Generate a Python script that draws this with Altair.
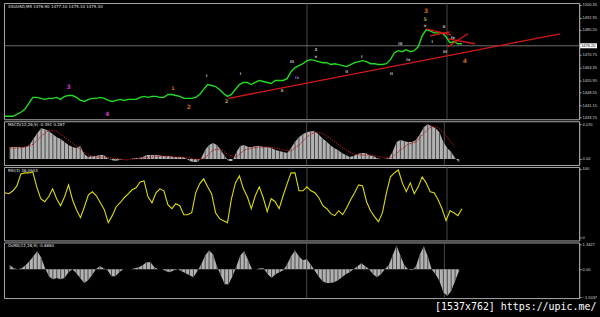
import altair as alt
import pandas as pd

# ---------------- data ----------------
price = [1434.5, 1434.5, 1434.5, 1435.7, 1436.9, 1438.6, 1442.2, 1445.7, 1445.7, 1445.1,
         1444.5, 1445.1, 1445.1, 1445.7, 1444.5, 1446.3, 1446.8, 1446.8, 1445.7, 1443.9,
         1443.3, 1444.5, 1445.1, 1445.1, 1445.7, 1445.1, 1443.9, 1443.3, 1443.9, 1444.5,
         1443.9, 1444.5, 1444.5, 1444.5, 1445.7, 1446.3, 1445.7, 1446.3, 1446.3, 1445.7,
         1445.7, 1447.4, 1447.4, 1446.8, 1446.3, 1445.1, 1445.1, 1445.1, 1445.7, 1447.4,
         1450.4, 1453.3, 1452.7, 1452.1, 1450.4, 1448.0, 1446.3, 1447.4, 1450.4, 1453.3,
         1454.5, 1454.5, 1453.3, 1454.5, 1455.7, 1455.1, 1454.5, 1453.9, 1455.7, 1455.7,
         1455.7, 1456.8, 1460.9, 1463.3, 1464.5, 1465.6, 1467.4, 1468.0, 1467.4, 1466.8,
         1466.2, 1466.2, 1465.1, 1465.6, 1465.1, 1464.5, 1463.9, 1465.1, 1466.2, 1466.8,
         1467.4, 1466.8, 1465.6, 1465.6, 1465.1, 1465.1, 1465.6, 1468.0, 1472.1, 1473.3,
         1472.7, 1473.9, 1472.7, 1473.3, 1475.6, 1482.1, 1485.6, 1485.0, 1483.8, 1483.8,
         1483.8, 1481.5, 1478.0, 1478.6, 1477.4, 1477.4]

macd_hist = [1.40, 1.40, 1.40, 1.40, 1.40, 1.63, 2.33, 3.02, 3.61, 3.49,
             3.26, 2.91, 2.56, 2.33, 1.98, 1.63, 1.40, 1.28, 1.51, 0.58,
             0.23, 0.35, 0.35, 0.47, 0.47, 0.12, -0.12, -0.23, -0.12, 0.0,
             0.0, 0.0, 0.12, 0.12, 0.23, 0.47, 0.47, 0.47, 0.47, 0.35,
             0.35, 0.35, 0.23, 0.23, 0.23, 0.12, -0.23, -0.35, -0.35, 0.12,
             1.05, 1.63, 1.86, 1.63, 1.05, 0.35, -0.23, -0.23, 0.81, 1.51,
             1.63, 1.40, 1.40, 1.51, 1.51, 1.40, 1.40, 1.28, 1.05, 0.93,
             0.81, 0.70, 1.28, 1.98, 2.56, 2.91, 3.14, 3.26, 3.26, 2.91,
             2.44, 2.09, 1.63, 1.28, 1.05, 0.70, 0.47, 0.23, 0.35, 0.58,
             0.70, 0.70, 0.47, 0.35, 0.12, 0.0, 0.0, 0.12, 0.81, 1.98,
             2.21, 2.09, 1.98, 1.98, 2.21, 2.91, 3.72, 4.07, 3.84, 3.61,
             3.14, 1.98, 1.28, 0.81, 0.12, -0.35]

macd_signal = [1.28, 1.28, 1.40, 1.74, 2.67, 3.37, 3.26, 2.56, 1.86, 1.16,
               0.47, 0.23, 0.23, 0.12, 0.0, -0.12, 0.0, 0.12, 0.23, 0.35,
               0.35, 0.23, 0.23, 0.12, -0.12, 0.12, 1.05, 1.16, 0.47, 0.23,
               1.05, 1.28, 1.40, 1.40, 1.28, 1.05, 0.93, 1.63, 2.56, 3.14,
               3.02, 2.44, 1.74, 1.05, 0.58, 0.47, 0.47, 0.35, 0.12, 0.23,
               1.05, 1.74, 1.98, 3.02, 3.84, 3.61, 2.56, 1.40]

rsi = [65.2, 63.8, 68.1, 75.3, 92.7, 94.2, 94.2, 95.6, 73.9, 56.5,
       52.2, 59.4, 71.0, 56.5, 46.4, 59.4, 76.8, 55.1, 40.6, 29.0,
       44.9, 62.3, 66.7, 60.9, 50.7, 40.6, 21.7, 31.9, 44.9, 50.7,
       58.0, 63.8, 69.6, 72.5, 81.1, 82.6, 59.4, 50.7, 65.2, 71.0,
       68.1, 47.8, 42.0, 49.3, 46.4, 33.3, 33.3, 36.2, 65.2, 78.2,
       85.5, 73.9, 63.8, 36.2, 27.5, 24.6, 21.7, 56.5, 79.7, 89.8,
       71.0, 59.4, 42.0, 60.9, 73.9, 58.0, 37.7, 56.5, 52.2, 42.0,
       60.9, 78.2, 94.2, 94.2, 68.1, 68.1, 73.9, 68.1, 65.2, 58.0,
       46.4, 42.0, 34.8, 31.9, 39.1, 33.3, 43.5, 55.1, 65.2, 76.8,
       75.3, 52.2, 39.1, 30.4, 23.2, 36.2, 65.2, 88.4, 94.2, 98.5,
       79.7, 66.7, 79.7, 63.8, 73.9, 88.4, 79.7, 66.7, 65.2, 55.1,
       42.0, 24.6, 39.1, 36.2, 31.9, 42.0]

osma = [0.21, 0.05, 0.0, 0.05, 0.21, 0.43, 0.70, 0.97, 0.64, 0.05,
        -0.38, -0.54, -0.48, -0.54, -0.48, -0.16, 0.0, -0.21, -0.48, -0.75,
        -0.59, -0.32, 0.0, 0.16, 0.05, -0.05, -0.38, -0.38, -0.16, 0.0,
        0.0, 0.0, 0.05, 0.11, 0.21, 0.38, 0.38, 0.11, 0.0, 0.0,
        -0.11, -0.16, -0.05, 0.0, -0.11, -0.21, -0.32, -0.43, -0.11, 0.27,
        0.75, 1.02, 0.81, 0.16, -0.32, -0.81, -0.81, -0.38, 0.16, 0.75,
        0.97, 0.48, 0.0, 0.0, 0.05, 0.05, -0.27, -0.48, -0.27, -0.16,
        -0.05, 0.27, 0.70, 1.02, 0.70, 0.48, 0.54, 0.27, -0.05, -0.38,
        -0.64, -0.75, -0.75, -0.70, -0.59, -0.43, -0.27, -0.16, 0.0, 0.16,
        0.32, 0.16, 0.0, -0.27, -0.43, -0.27, 0.0, 0.21, 0.75, 1.29,
        0.75, 0.21, 0.0, -0.05, 0.16, 0.81, 1.24, 0.70, 0.0, -0.27,
        -0.64, -1.24, -1.45, -1.18, -0.64, -0.11]

bars = list(range(len(price)))
signal_bars = list(range(0, len(price), 2))

price_ticks = [1433.75, 1441.15, 1448.55, 1455.95, 1463.35, 1470.75, 1485.55, 1492.95, 1500.35]
macd_ticks = [4.07, 0.0]
rsi_ticks = [100, 0]
osma_ticks = [1.3427, 0.0, -1.5037]

bid_price = [1476.20]
bid_label = ["1476.20"]
separator_bars = [76, 111.25]

trend_x = [56.25, 106, 107, 111.5, 111.5]
trend_x2 = [139.75, 112.25, 112, 116.5, 118.25]
trend_p = [1445.1, 1486.2, 1482.1, 1475.6, 1480.3]
trend_p2 = [1483.3, 1482.7, 1484.4, 1483.3, 1477.4]

MAG, ORA, OLI, GRY, PUR = "#c83cc8", "#d2691e", "#a8a040", "#c8c8c8", "#a070e0"
wave_text = ["3", "4", "1", "2", "2", "3", "5", "4",
             "i", "i", "ii", "iii", "iv", "3", "v", "ii", "i", "ii", "iii", "iv", "v", "ii", "i", "iii", "iv"]
wave_bar = [16, 25.75, 42.25, 46.25, 55.75, 106, 105.75, 115.75,
            50.75, 59.25, 69.75, 72.25, 73.5, 78.25, 78.25, 86, 89.75, 97.25, 99.5, 101.5, 105.75, 110.5, 107.5, 110.75, 112.75]
wave_price = [1452.1, 1435.7, 1451.0, 1439.8, 1443.3, 1496.8, 1492.1, 1467.4,
              1458.6, 1459.8, 1449.2, 1466.8, 1457.4, 1473.9, 1469.8, 1460.4, 1469.8, 1459.8, 1477.4, 1468.0, 1487.9, 1487.4, 1478.6, 1472.7, 1480.9]
wave_color = [MAG, MAG, ORA, ORA, OLI, ORA, OLI, ORA] + [GRY] * 4 + [PUR] + [GRY] * 12
wave_size = [6, 6, 5, 6, 5, 6, 5, 6] + [4] * 17

header_main = "XAUUSD,M5  1476.90 1477.10 1475.10 1475.30"
header_macd = "MACD(12,26,9) -0.391 0.267"
header_rsi = "RSI(3) 36.0903"
header_osma = "OsMA(12,26,9) -0.6884"
watermark = "[1537x762] https://upic.me/"

# ---------------- layout ----------------
W = 579
H_MAIN, H_MACD, H_RSI, H_OSMA = 117, 44, 74, 56

XS = alt.Scale(domain=[-0.25, 144.5], nice=False, zero=False)
PS = alt.Scale(domain=[1432.75, 1501.47], nice=False, zero=False)
MS = alt.Scale(domain=[-0.70, 4.42], nice=False, zero=False)
RS = alt.Scale(domain=[-4.3, 102.9], nice=False, zero=False)
OS = alt.Scale(domain=[-1.56, 1.45], nice=False, zero=False)


def yaxis(values, expr=None, fmt=None):
    kw = dict(orient="right", values=values, title=None, grid=False,
              labelFontSize=4, labelColor="#d8d8d8", domainColor="#a0a0a0",
              tickColor="#a0a0a0", tickSize=2, labelPadding=1,
              labelOverlap=False, labelFlush=False)
    if expr:
        kw["labelExpr"] = expr
    if fmt:
        kw["format"] = fmt
    return alt.Axis(**kw)


def xenc(field="i"):
    return alt.X(f"{field}:Q", scale=XS, axis=None)


def vlines():
    return alt.Chart(pd.DataFrame({"i": separator_bars})).mark_rule(
        color="#5a5a5a", strokeWidth=0.8).encode(x=xenc())


def header(t):
    return alt.Chart(pd.DataFrame({"t": [t]})).mark_text(
        align="left", baseline="top", fontSize=4, color="#e0e0e0", font="DejaVu Sans"
    ).encode(text="t:N", x=alt.value(4), y=alt.value(2))


def histogram(df, scale, axis):
    area = alt.Chart(df).mark_area(color="#b2b2b2", clip=True).encode(
        x=xenc(), y=alt.Y("v:Q", scale=scale, axis=axis), y2=alt.datum(0))
    stripes = alt.Chart(df).mark_bar(size=1, color="#4a4a4a", clip=True).encode(
        x=xenc(), y=alt.Y("v:Q", scale=scale, axis=axis))
    return [area, stripes]


PAX = yaxis(price_ticks, fmt=".2f")

# main panel
df_price = pd.DataFrame({"i": bars, "p": price})
df_trend = pd.DataFrame({"i": trend_x, "i2": trend_x2, "p": trend_p, "p2": trend_p2})
df_wave = pd.DataFrame({"i": wave_bar, "p": wave_price, "t": wave_text, "c": wave_color, "s": wave_size})
df_bid = pd.DataFrame({"p": bid_price, "t": bid_label})

bid_line = alt.Chart(df_bid).mark_rule(color="#8a8a8a", strokeWidth=0.8).encode(
    y=alt.Y("p:Q", scale=PS, axis=PAX))
price_line = alt.Chart(df_price).mark_line(color="#22dd22", strokeWidth=1.4, clip=True).encode(
    x=xenc(), y=alt.Y("p:Q", scale=PS, axis=PAX))
trend = alt.Chart(df_trend).mark_rule(color="#d81818", strokeWidth=1.3, clip=True).encode(
    x=xenc(), x2="i2:Q", y=alt.Y("p:Q", scale=PS, axis=PAX), y2="p2:Q")
waves = alt.Chart(df_wave).mark_text(font="DejaVu Sans", fontWeight="bold").encode(
    x=xenc(), y=alt.Y("p:Q", scale=PS, axis=PAX), text="t:N",
    color=alt.Color("c:N", scale=None), size=alt.Size("s:Q", scale=None))
bid_box = alt.Chart(df_bid).mark_rule(color="white", strokeWidth=5).encode(
    x=alt.value(W + 1), x2=alt.value(W + 18), y=alt.Y("p:Q", scale=PS, axis=PAX))
bid_text = alt.Chart(df_bid).mark_text(align="left", baseline="middle", fontSize=4, color="black").encode(
    x=alt.value(W + 2), y=alt.Y("p:Q", scale=PS, axis=PAX), text="t:N")

main = alt.layer(vlines(), bid_line, price_line, trend, waves, header(header_main), bid_box, bid_text
                 ).properties(width=W, height=H_MAIN)

# MACD panel
MAX = yaxis(macd_ticks, expr="datum.value == 0 ? '0.00' : format(datum.value, '.3f')")
df_macd = pd.DataFrame({"i": bars, "v": macd_hist})
df_sig = pd.DataFrame({"i": signal_bars, "v": macd_signal})
macd = alt.layer(
    vlines(),
    *histogram(df_macd, MS, MAX),
    alt.Chart(df_sig).mark_line(color="#b01818", strokeWidth=1, strokeDash=[1.5, 1], clip=True).encode(
        x=xenc(), y=alt.Y("v:Q", scale=MS, axis=MAX)),
    header(header_macd),
).properties(width=W, height=H_MACD)

# RSI panel
RAX = yaxis(rsi_ticks, fmt="d")
df_rsi = pd.DataFrame({"i": bars, "v": rsi})
rsi_chart = alt.layer(
    vlines(),
    alt.Chart(df_rsi).mark_line(color="#dcdc10", strokeWidth=1.1, clip=True).encode(
        x=xenc(), y=alt.Y("v:Q", scale=RS, axis=RAX)),
    header(header_rsi),
).properties(width=W, height=H_RSI)

# OsMA panel
OAX = yaxis(osma_ticks, expr="datum.value == 0 ? '0.00' : format(datum.value, '.4f')")
df_osma = pd.DataFrame({"i": bars, "v": osma})
wm = alt.Chart(pd.DataFrame({"t": [watermark]})).mark_text(
    align="left", baseline="alphabetic", fontSize=10, color="white", font="DejaVu Sans Mono"
).encode(text="t:N", x=alt.value(434), y=alt.value(68))
osma_chart = alt.layer(
    vlines(),
    *histogram(df_osma, OS, OAX),
    header(header_osma),
    wm,
).properties(width=W, height=H_OSMA)

chart = alt.vconcat(main, macd, rsi_chart, osma_chart, spacing=0).properties(
    background="black",
    padding={"left": 3, "top": 1, "right": 0, "bottom": 5},
).configure_view(stroke="#a8a8a8", strokeWidth=1)

chart.save("out.html", embed_options={"renderer": "svg", "actions": False})
